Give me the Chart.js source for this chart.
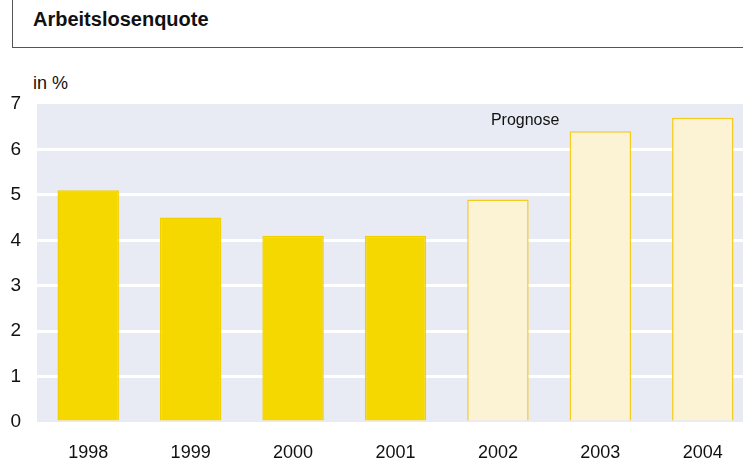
<!DOCTYPE html>
<html>
<head>
<meta charset="utf-8">
<script src="https://cdn.jsdelivr.net/npm/chart.js@4.4.1/dist/chart.umd.min.js"></script>
<style>
  html, body { margin: 0; padding: 0; background: #fff; overflow: hidden; }
  body { width: 743px; height: 461px; position: relative; font-family: "Liberation Sans", Arial, sans-serif; }
  #head { position: absolute; left: 12px; top: 0; width: 731px; height: 47px;
          border-left: 1px solid #555; border-bottom: 1px solid #555; }
  #head span { position: absolute; left: 20px; top: 8px; font-size: 20px; font-weight: bold; color: #111; }
  #unit { position: absolute; left: 33px; top: 73px; font-size: 18px; color: #111; }
  #wrap { position: absolute; left: 0; top: 0; width: 754px; height: 461px; }
</style>
</head>
<body>
<div id="head"><span>Arbeitslosenquote</span></div>
<div id="unit">in %</div>
<div id="wrap"><canvas id="myChart"></canvas></div>
<script>
// Arbeitslosenquote in %, ab 2002 Prognose
var jahre = ['1998', '1999', '2000', '2001', '2002', '2003', '2004'];
var quote = [5.1, 4.5, 4.1, 4.1, 4.9, 6.4, 6.7];
var prognose = [false, false, false, false, true, true, true];
var yTicks = [0, 1, 2, 3, 4, 5, 6, 7];

var plotBg = {
  id: 'plotBg',
  beforeDraw: function (chart) {
    var a = chart.chartArea, c = chart.ctx;
    c.save();
    c.fillStyle = '#e8eaf4';
    c.fillRect(a.left, a.top, a.right - a.left, a.bottom - a.top);
    c.restore();
  },
  afterDatasetsDraw: function (chart) {
    // "Prognose" label over the forecast bars
    var c = chart.ctx;
    var x = chart.scales.x.getPixelForValue(4) - 7;
    var y = chart.scales.y.getPixelForValue(6.63);
    c.save();
    c.font = '16px "Liberation Sans", Arial, sans-serif';
    c.fillStyle = '#111';
    c.textAlign = 'left';
    c.textBaseline = 'middle';
    c.fillText('Prognose', x, y);
    c.restore();
  }
};

new Chart('myChart', {
  type: 'bar',
  data: {
    labels: jahre,
    datasets: [{
      data: quote,
      backgroundColor: prognose.map(function (p) { return p ? '#fcf3d5' : '#f5d800'; }),
      borderColor: prognose.map(function (p) { return p ? '#f6cb1e' : '#f2cf00'; }),
      borderWidth: 1.5,
      barPercentage: 0.6,
      categoryPercentage: 1.0
    }]
  },
  options: {
    responsive: true,
    maintainAspectRatio: false,
    animation: false,
    layout: { padding: { top: 104, left: 0, right: 0, bottom: 0 } },
    plugins: { legend: { display: false }, tooltip: { enabled: false } },
    scales: {
      x: {
        grid: { display: false, drawTicks: false },
        border: { display: false },
        ticks: { color: '#111', font: { family: '"Liberation Sans", Arial, sans-serif', size: 18 }, padding: 20 },
        afterFit: function (s) { s.height = 39; }
      },
      y: {
        min: 0, max: 7,
        afterBuildTicks: function (s) { s.ticks = yTicks.map(function (v) { return { value: v }; }); },
        grid: {
          drawTicks: false,
          lineWidth: 3,
          color: function (ctx) {
            var v = ctx.tick && ctx.tick.value;
            return (v > 0 && v < 7) ? '#ffffff' : 'rgba(0,0,0,0)';
          }
        },
        border: { display: false },
        ticks: { color: '#111', font: { family: '"Liberation Sans", Arial, sans-serif', size: 19 }, padding: 16 },
        afterFit: function (s) { s.width = 37; }
      }
    }
  },
  plugins: [plotBg]
});
</script>
</body>
</html>
